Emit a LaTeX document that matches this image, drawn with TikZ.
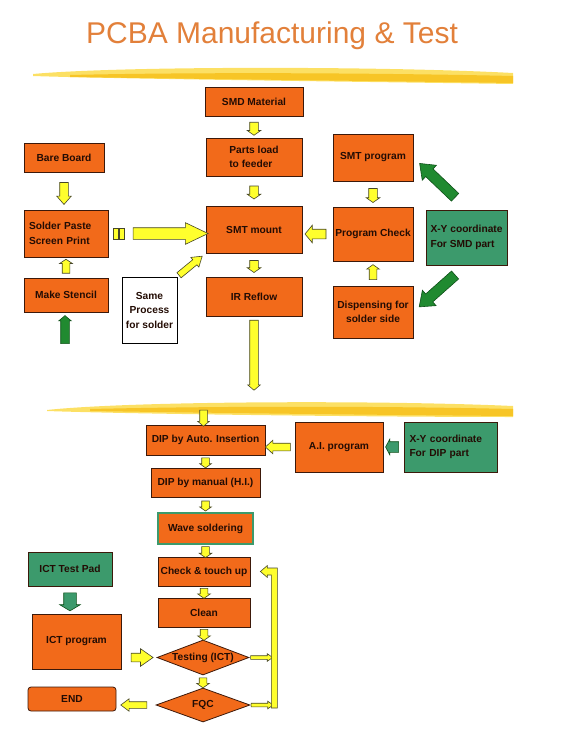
\documentclass[tikz,border=0pt]{standalone}
\usepackage{fontspec}
\setmainfont{Liberation Sans}
\usetikzlibrary{calc,positioning,shapes.geometric,shapes.arrows}

\definecolor{boxorange}{RGB}{242,106,26}
\definecolor{boxgreen}{RGB}{60,154,108}
\definecolor{boxline}{RGB}{60,25,10}
\definecolor{txtdark}{RGB}{35,12,4}
\definecolor{titleorange}{RGB}{226,128,58}
\definecolor{arrowyellow}{RGB}{255,255,45}
\definecolor{arrowline}{RGB}{70,70,40}
\definecolor{arrowgreen}{RGB}{32,138,48}
\definecolor{arrowgreenline}{RGB}{15,80,25}
\definecolor{brushgold}{RGB}{247,197,38}
\definecolor{brushlight}{RGB}{252,224,100}

\tikzset{
  box/.style={draw=boxline, fill=boxorange, line width=0.8pt, text=txtdark,
    font=\bfseries\fontsize{10.2}{14.5}\selectfont, inner sep=1pt, align=center},
  greenbox/.style={box, fill=boxgreen},
  notebox/.style={box, fill=white, draw=black},
  decision/.style={box, diamond, aspect=2.7, inner sep=0pt},
  title/.style={text=titleorange, font=\fontsize{30}{36}\selectfont, inner sep=0pt},
  sz/.style 2 args={minimum width=#1pt, minimum height=#2pt},
  % length / half shaft / head extend / tip angle
  blk/.style args={#1/#2/#3/#4}{minimum height=#1pt, inner ysep=#2pt,
    single arrow head extend=#3pt, single arrow tip angle=#4},
  yarrow/.style={single arrow, draw=arrowline, fill=arrowyellow, line width=0.6pt,
    inner xsep=0pt, minimum width=0pt, sloped, allow upside down,
    blk=13/4/2.5/110},
  garrow/.style={yarrow, draw=arrowgreenline, fill=arrowgreen},
  tarrow/.style={yarrow, draw=arrowgreenline, fill=boxgreen},
  ybar/.style={draw=arrowline, fill=arrowyellow, line width=0.6pt,
    minimum width=5pt, minimum height=11pt, inner sep=0pt},
  ret/.style={draw=arrowline, fill=arrowyellow, line width=0.6pt},
  brush/.style={fill=brushgold},
}

\begin{document}
\begin{tikzpicture}[x=1pt, y=-1pt]
  \useasboundingbox (0,0) rectangle (564,746);

  % title and the two brush strokes
  \node[title] (title) at (272,36) {PCBA Manufacturing \& Test};
  \fill[brushlight] (33,74) .. controls (120,66) and (380,66) .. (513,73)
    -- (513,84) .. controls (380,82) and (120,79) .. (33,76) -- cycle;
  \fill[brush] (70,75) .. controls (200,72) and (380,73) .. (513,76)
    -- (513,83) .. controls (380,81) and (200,79) .. (70,77) -- cycle;
  \fill[brushlight] (47,410) .. controls (130,401) and (380,400) .. (513,406)
    -- (513,417) .. controls (380,417) and (130,414) .. (47,411) -- cycle;
  \fill[brush] (90,409) .. controls (220,406) and (380,406) .. (513,409)
    -- (513,416) .. controls (380,415) and (220,413) .. (90,411) -- cycle;

  % SMT part
  \node[box, sz={98}{29}] (smd) at (254,102) {SMD Material};
  \node[box, sz={96}{38}, align=left] (parts) at (254,157) {Parts load\\to feeder};
  \node[box, sz={96}{47}] (mount) at (254,229.5) {SMT mount};
  \node[box, sz={96}{39}] (reflow) at (254,296.5) {IR Reflow};

  \node[box, sz={80}{29}] (bare) at (64,157.5) {Bare Board};
  \node[box, sz={84}{47}, text width=74pt, align=left] (paste) at (66,233.5) {Solder Paste\\Screen Print};
  \node[box, sz={84}{34}] (stencil) at (66,295) {Make Stencil};
  \node[notebox, sz={55}{66}] (same) at (149.5,310) {Same\\Process\\for solder};

  \node[box, sz={80}{47}] (smtprog) at (373,157.5) {SMT program};
  \node[box, sz={80}{54}] (check) at (373,234) {Program Check};
  \node[box, sz={80}{52}] (disp) at (373,312) {Dispensing for\\solder side};
  \node[greenbox, sz={81}{55}, align=left] (xysmd) at (466.5,237.5) {X-Y coordinate\\For SMD part};

  % DIP part
  \node[box, sz={119}{30}] (dipauto) at (205.5,440) {DIP by Auto. Insertion};
  \node[box, sz={88}{50}] (aiprog) at (339,447) {A.I. program};
  \node[greenbox, sz={93}{50}, text width=82pt, align=left] (xydip) at (450.5,447) {X-Y coordinate\\For DIP part};
  \node[box, sz={109}{29}] (dipman) at (205.5,482.5) {DIP by manual (H.I.)};
  \node[box, sz={95}{31}, draw=boxgreen, line width=2pt] (wave) at (205.5,528.5) {Wave soldering};

  % test part
  \node[greenbox, sz={84}{34}] (ictpad) at (70,569) {ICT Test Pad};
  \node[box, sz={89}{55}] (ictprog) at (76.5,641.5) {ICT program};
  \node[box, sz={88}{24}, rounded corners=3pt] (endbox) at (72,699) {END};
  \node[box, sz={92}{29}] (touch) at (204,571.5) {Check \& touch up};
  \node[box, sz={92}{29}] (clean) at (204,612.5) {Clean};
  \node[decision, sz={92}{35}] (testing) at (203,657.5) {Testing (ICT)};
  \node[decision, sz={94}{34}] (fqc) at (203,705) {FQC};

  % arrows of the SMT part
  \path (smd.south) -- node[yarrow] {} (smd.south |- parts.north);
  \path (parts.south) -- node[yarrow] {} (parts.south |- mount.north);
  \path (mount.south) -- node[yarrow, blk=12/4/2.5/110] {} (mount.south |- reflow.north);
  \coordinate (reflowout) at ($(reflow.south)+(0,74)$);
  \path (reflow.south) -- node[yarrow, blk=70/4/2/100] {} (reflowout);
  \path (bare.south) -- node[yarrow, blk=22/4/3/82] {} (bare.south |- paste.north);
  \path (stencil.north) -- node[yarrow, blk=14/3.5/2.5/112] {} (stencil.north |- paste.south);
  \path (paste.east) -- node[ybar, pos=0.077] (bar1) {} node[ybar, pos=0.138] (bar2) {}
    node[yarrow, pos=0.577, blk=75/5.5/5/51] {} (paste.east -| mount.west);
  \path (same.north east) -- node[yarrow, pos=0.4, blk=30/3/3/67] {} (mount.south west);
  \path (smtprog.south) -- node[yarrow, blk=14/4/2.5/110] {} (smtprog.south |- check.north);
  \path (disp.north) -- node[yarrow, blk=15/3.5/2.5/110] {} (disp.north |- check.south);
  \path (check.west) -- node[yarrow, blk=21/4.5/4/101] {} (check.west -| mount.east);

  \coordinate (smdtail) at ($(xysmd.north)+(-9,-10)$);
  \coordinate (disptail) at ($(xysmd.south)+(-8.5,7)$);
  \path (smdtail) -- node[garrow, pos=0.4, blk=49/5/5/75] {} (smtprog.east);
  \path (disptail) -- node[garrow, pos=0.41, blk=48/5/5/75] {} (disp.east);
  \coordinate (stencilin) at ($(stencil.south)+(-1,34)$);
  \path (stencilin) -- node[garrow, pos=0.44, blk=28/4/2/100] {} (stencilin |- stencil.south);

  % arrows of the DIP part
  \coordinate (dipin) at ($(dipauto.north)+(-2,-16)$);
  \path (dipin) -- node[yarrow, blk=16/3.5/2/100] {} (dipin |- dipauto.north);
  \path (dipauto.south) -- node[yarrow, blk=10/3.5/2/110] {} (dipauto.south |- dipman.north);
  \path (dipman.south) -- node[yarrow, blk=10/3.5/2/110] {} (dipman.south |- wave.north);
  \path (wave.south) -- node[yarrow, blk=11/3.5/2.5/110] {} (wave.south |- touch.north);
  \path (aiprog.west) -- node[yarrow, blk=25/3.5/3/85] {} (aiprog.west -| dipauto.east);
  \path (xydip.west) -- node[tarrow, blk=13/5/2.5/124] {} (xydip.west -| aiprog.east);

  % arrows of the test part
  \path (touch.south) -- node[yarrow, blk=10/3.5/2.5/110] {} (touch.south |- clean.north);
  \path (clean.south) -- node[yarrow, blk=11/3.5/2.5/110] {} (clean.south |- testing.north);
  \path (testing.south) -- node[yarrow, blk=10/3.5/2.5/110] {} (testing.south |- fqc.north);
  \path (ictpad.south) -- node[tarrow, blk=18/6/4/118] {} (ictpad.south |- ictprog.north);
  \path (testing.west -| ictprog.east) -- node[yarrow, blk=22/4/4.5/70] {} (testing.west);
  \path (fqc.west) -- node[yarrow, blk=26/3/3/74] {} (fqc.west -| endbox.east);
  \coordinate (loop) at ([xshift=21pt]touch.east);
  \path (testing.east) -- node[yarrow, blk=22/1.5/2/70] {} (testing.east -| loop);
  \path (fqc.east) -- node[yarrow, blk=22/1.5/2/70] {} (fqc.east -| loop);
  \filldraw[ret] ([xshift=10pt]touch.east) -- ++(7,-6) -- ++(0,2.5) -- ++(10,0)
    -- ++(0,140) -- ++(-6,0) -- ++(0,-133) -- ++(-4,0) -- ++(0,2.5) -- cycle;
\end{tikzpicture}
\end{document}
